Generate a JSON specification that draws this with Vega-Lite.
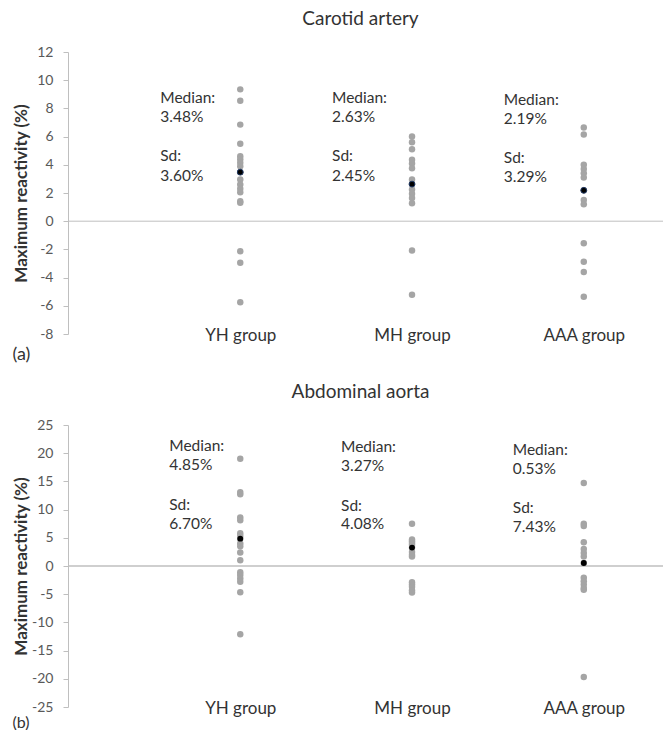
{
  "$schema": "https://vega.github.io/schema/vega-lite/v6.json",
  "padding": {"left": 12, "top": 10, "right": 0, "bottom": 0},
  "config": {"font": "Lato", "view": {"stroke": null}},
  "datasets": {
    "points": [
      {"panel": "Carotid artery", "group": "YH group", "value": 9.35},
      {"panel": "Carotid artery", "group": "YH group", "value": 8.55},
      {"panel": "Carotid artery", "group": "YH group", "value": 6.85},
      {"panel": "Carotid artery", "group": "YH group", "value": 5.5},
      {"panel": "Carotid artery", "group": "YH group", "value": 4.6},
      {"panel": "Carotid artery", "group": "YH group", "value": 4.4},
      {"panel": "Carotid artery", "group": "YH group", "value": 4.15},
      {"panel": "Carotid artery", "group": "YH group", "value": 3.9},
      {"panel": "Carotid artery", "group": "YH group", "value": 3.48},
      {"panel": "Carotid artery", "group": "YH group", "value": 2.95},
      {"panel": "Carotid artery", "group": "YH group", "value": 2.6},
      {"panel": "Carotid artery", "group": "YH group", "value": 2.3},
      {"panel": "Carotid artery", "group": "YH group", "value": 2.05},
      {"panel": "Carotid artery", "group": "YH group", "value": 1.42},
      {"panel": "Carotid artery", "group": "YH group", "value": 1.3},
      {"panel": "Carotid artery", "group": "YH group", "value": -2.13},
      {"panel": "Carotid artery", "group": "YH group", "value": -2.95},
      {"panel": "Carotid artery", "group": "YH group", "value": -5.75},
      {"panel": "Carotid artery", "group": "MH group", "value": 6.0},
      {"panel": "Carotid artery", "group": "MH group", "value": 5.6},
      {"panel": "Carotid artery", "group": "MH group", "value": 5.1},
      {"panel": "Carotid artery", "group": "MH group", "value": 4.35},
      {"panel": "Carotid artery", "group": "MH group", "value": 4.1},
      {"panel": "Carotid artery", "group": "MH group", "value": 3.75},
      {"panel": "Carotid artery", "group": "MH group", "value": 2.95},
      {"panel": "Carotid artery", "group": "MH group", "value": 2.63},
      {"panel": "Carotid artery", "group": "MH group", "value": 2.25},
      {"panel": "Carotid artery", "group": "MH group", "value": 1.95},
      {"panel": "Carotid artery", "group": "MH group", "value": 1.65},
      {"panel": "Carotid artery", "group": "MH group", "value": 1.28},
      {"panel": "Carotid artery", "group": "MH group", "value": -2.07},
      {"panel": "Carotid artery", "group": "MH group", "value": -5.22},
      {"panel": "Carotid artery", "group": "AAA group", "value": 6.65},
      {"panel": "Carotid artery", "group": "AAA group", "value": 6.15},
      {"panel": "Carotid artery", "group": "AAA group", "value": 4.0},
      {"panel": "Carotid artery", "group": "AAA group", "value": 3.7},
      {"panel": "Carotid artery", "group": "AAA group", "value": 3.4},
      {"panel": "Carotid artery", "group": "AAA group", "value": 3.1},
      {"panel": "Carotid artery", "group": "AAA group", "value": 2.19},
      {"panel": "Carotid artery", "group": "AAA group", "value": 1.5},
      {"panel": "Carotid artery", "group": "AAA group", "value": 1.2},
      {"panel": "Carotid artery", "group": "AAA group", "value": -1.57},
      {"panel": "Carotid artery", "group": "AAA group", "value": -2.88},
      {"panel": "Carotid artery", "group": "AAA group", "value": -3.6},
      {"panel": "Carotid artery", "group": "AAA group", "value": -5.35},
      {"panel": "Abdominal aorta", "group": "YH group", "value": 19.0},
      {"panel": "Abdominal aorta", "group": "YH group", "value": 13.1},
      {"panel": "Abdominal aorta", "group": "YH group", "value": 12.7},
      {"panel": "Abdominal aorta", "group": "YH group", "value": 8.6},
      {"panel": "Abdominal aorta", "group": "YH group", "value": 8.1},
      {"panel": "Abdominal aorta", "group": "YH group", "value": 5.8},
      {"panel": "Abdominal aorta", "group": "YH group", "value": 5.3},
      {"panel": "Abdominal aorta", "group": "YH group", "value": 4.85},
      {"panel": "Abdominal aorta", "group": "YH group", "value": 4.0},
      {"panel": "Abdominal aorta", "group": "YH group", "value": 3.5},
      {"panel": "Abdominal aorta", "group": "YH group", "value": 2.4},
      {"panel": "Abdominal aorta", "group": "YH group", "value": 1.0},
      {"panel": "Abdominal aorta", "group": "YH group", "value": -1.1},
      {"panel": "Abdominal aorta", "group": "YH group", "value": -1.6},
      {"panel": "Abdominal aorta", "group": "YH group", "value": -2.2},
      {"panel": "Abdominal aorta", "group": "YH group", "value": -2.8},
      {"panel": "Abdominal aorta", "group": "YH group", "value": -4.65},
      {"panel": "Abdominal aorta", "group": "YH group", "value": -12.1},
      {"panel": "Abdominal aorta", "group": "MH group", "value": 7.5},
      {"panel": "Abdominal aorta", "group": "MH group", "value": 4.7},
      {"panel": "Abdominal aorta", "group": "MH group", "value": 4.4},
      {"panel": "Abdominal aorta", "group": "MH group", "value": 4.1},
      {"panel": "Abdominal aorta", "group": "MH group", "value": 3.75},
      {"panel": "Abdominal aorta", "group": "MH group", "value": 3.27},
      {"panel": "Abdominal aorta", "group": "MH group", "value": 2.5},
      {"panel": "Abdominal aorta", "group": "MH group", "value": 2.0},
      {"panel": "Abdominal aorta", "group": "MH group", "value": 1.7},
      {"panel": "Abdominal aorta", "group": "MH group", "value": -2.9},
      {"panel": "Abdominal aorta", "group": "MH group", "value": -3.3},
      {"panel": "Abdominal aorta", "group": "MH group", "value": -3.7},
      {"panel": "Abdominal aorta", "group": "MH group", "value": -4.3},
      {"panel": "Abdominal aorta", "group": "MH group", "value": -4.7},
      {"panel": "Abdominal aorta", "group": "AAA group", "value": 14.7},
      {"panel": "Abdominal aorta", "group": "AAA group", "value": 7.5},
      {"panel": "Abdominal aorta", "group": "AAA group", "value": 7.1},
      {"panel": "Abdominal aorta", "group": "AAA group", "value": 4.2},
      {"panel": "Abdominal aorta", "group": "AAA group", "value": 3.0},
      {"panel": "Abdominal aorta", "group": "AAA group", "value": 2.3},
      {"panel": "Abdominal aorta", "group": "AAA group", "value": 1.7},
      {"panel": "Abdominal aorta", "group": "AAA group", "value": 0.53},
      {"panel": "Abdominal aorta", "group": "AAA group", "value": -2.1},
      {"panel": "Abdominal aorta", "group": "AAA group", "value": -2.7},
      {"panel": "Abdominal aorta", "group": "AAA group", "value": -3.3},
      {"panel": "Abdominal aorta", "group": "AAA group", "value": -3.9},
      {"panel": "Abdominal aorta", "group": "AAA group", "value": -4.2},
      {"panel": "Abdominal aorta", "group": "AAA group", "value": -19.7}
    ],
    "medians": [
      {"panel": "Carotid artery", "group": "YH group", "median": 3.48},
      {"panel": "Carotid artery", "group": "MH group", "median": 2.63},
      {"panel": "Carotid artery", "group": "AAA group", "median": 2.19},
      {"panel": "Abdominal aorta", "group": "YH group", "median": 4.85},
      {"panel": "Abdominal aorta", "group": "MH group", "median": 3.27},
      {"panel": "Abdominal aorta", "group": "AAA group", "median": 0.53}
    ],
    "notes": [
      {"panel": "Carotid artery", "group": "YH group", "text": "Median:", "y": 8.74},
      {"panel": "Carotid artery", "group": "YH group", "text": "3.48%", "y": 7.37},
      {"panel": "Carotid artery", "group": "YH group", "text": "Sd:", "y": 4.6},
      {"panel": "Carotid artery", "group": "YH group", "text": "3.60%", "y": 3.23},
      {"panel": "Carotid artery", "group": "MH group", "text": "Median:", "y": 8.74},
      {"panel": "Carotid artery", "group": "MH group", "text": "2.63%", "y": 7.37},
      {"panel": "Carotid artery", "group": "MH group", "text": "Sd:", "y": 4.6},
      {"panel": "Carotid artery", "group": "MH group", "text": "2.45%", "y": 3.23},
      {"panel": "Carotid artery", "group": "AAA group", "text": "Median:", "y": 8.6},
      {"panel": "Carotid artery", "group": "AAA group", "text": "2.19%", "y": 7.25},
      {"panel": "Carotid artery", "group": "AAA group", "text": "Sd:", "y": 4.46},
      {"panel": "Carotid artery", "group": "AAA group", "text": "3.29%", "y": 3.11},
      {"panel": "Abdominal aorta", "group": "YH group", "text": "Median:", "y": 21.3},
      {"panel": "Abdominal aorta", "group": "YH group", "text": "4.85%", "y": 17.9},
      {"panel": "Abdominal aorta", "group": "YH group", "text": "Sd:", "y": 10.8},
      {"panel": "Abdominal aorta", "group": "YH group", "text": "6.70%", "y": 7.45},
      {"panel": "Abdominal aorta", "group": "MH group", "text": "Median:", "y": 21.15},
      {"panel": "Abdominal aorta", "group": "MH group", "text": "3.27%", "y": 17.8},
      {"panel": "Abdominal aorta", "group": "MH group", "text": "Sd:", "y": 10.6},
      {"panel": "Abdominal aorta", "group": "MH group", "text": "4.08%", "y": 7.4},
      {"panel": "Abdominal aorta", "group": "AAA group", "text": "Median:", "y": 20.6},
      {"panel": "Abdominal aorta", "group": "AAA group", "text": "0.53%", "y": 17.2},
      {"panel": "Abdominal aorta", "group": "AAA group", "text": "Sd:", "y": 10.2},
      {"panel": "Abdominal aorta", "group": "AAA group", "text": "7.43%", "y": 6.86}
    ]
  },
  "columns": 1,
  "spacing": 20,
  "concat": [
    {
      "title": {"text": "Carotid artery", "fontSize": 19, "fontWeight": "normal", "color": "#333333", "offset": 16, "dx": -5},
      "width": 595,
      "height": 282,
      "layer": [
        {
          "data": {"values": [{}]},
          "mark": {"type": "rule", "color": "#bfbfbf", "strokeWidth": 1},
          "encoding": {
            "y": {
              "datum": 0, "type": "quantitative",
              "scale": {"domain": [-8, 12], "nice": false, "zero": false},
              "axis": {"tickCount": 10, "tickMinStep": 2, "labelExpr": "replace(datum.label, '\u2212', '-')", "labelOverlap": false, "grid": false, "domainColor": "#bfbfbf", "tickColor": "#bfbfbf", "tickSize": 5, "labelPadding": 10, "labelFontSize": 14, "labelColor": "#595959",
                       "title": "Maximum reactivity (%)", "titleFontSize": 17, "titleFontWeight": "bold", "titleColor": "#333333", "titleX": -47, "titleBaseline": "middle", "titleAngle": -90}
            }
          }
        },
        {
          "data": {"name": "points"},
          "transform": [{"filter": "datum.panel === 'Carotid artery'"}],
          "mark": {"type": "circle", "size": 42, "color": "#a5a5a5", "opacity": 1},
          "encoding": {
            "x": {
              "field": "group", "type": "nominal",
              "scale": {"type": "point", "domain": ["YH group", "MH group", "AAA group"], "padding": 0.732, "align": 0.685},
              "axis": {"orient": "bottom", "domain": false, "ticks": false, "labelPadding": 1, "labelBaseline": "middle", "labelAngle": 0, "labelFontSize": 17, "labelColor": "#333333",
                       "title": "(a)", "titleAnchor": "start", "titleAlign": "left", "titleBaseline": "middle", "titleX": -56, "titleY": 20, "titleFontSize": 18, "titleFontWeight": "normal", "titleColor": "#333333"}
            },
            "y": {"field": "value", "type": "quantitative"}
          }
        },
        {
          "data": {"name": "medians"},
          "transform": [{"filter": "datum.panel === 'Carotid artery'"}],
          "mark": {"type": "circle", "size": 34, "color": "#000000", "opacity": 1, "stroke": "#1f3864", "strokeWidth": 1},
          "encoding": {
            "x": {"field": "group", "type": "nominal"},
            "y": {"field": "median", "type": "quantitative"}
          }
        },
        {
          "data": {"name": "notes"},
          "transform": [{"filter": "datum.panel === 'Carotid artery'"}],
          "mark": {"type": "text", "align": "left", "baseline": "middle", "dx": -80, "fontSize": 15.5, "color": "#333333"},
          "encoding": {
            "x": {"field": "group", "type": "nominal"},
            "y": {"field": "y", "type": "quantitative"},
            "text": {"field": "text"}
          }
        }
      ]
    },
    {
      "title": {"text": "Abdominal aorta", "fontSize": 19, "fontWeight": "normal", "color": "#333333", "offset": 16, "dx": -5},
      "width": 595,
      "height": 282,
      "layer": [
        {
          "data": {"values": [{}]},
          "mark": {"type": "rule", "color": "#bfbfbf", "strokeWidth": 1.5},
          "encoding": {
            "y": {
              "datum": 0, "type": "quantitative",
              "scale": {"domain": [-25, 25], "nice": false, "zero": false},
              "axis": {"tickCount": 10, "tickMinStep": 5, "labelExpr": "replace(datum.label, '\u2212', '-')", "labelOverlap": false, "grid": false, "domainColor": "#bfbfbf", "tickColor": "#bfbfbf", "tickSize": 5, "labelPadding": 10, "labelFontSize": 14, "labelColor": "#595959",
                       "title": "Maximum reactivity (%)", "titleFontSize": 17, "titleFontWeight": "bold", "titleColor": "#333333", "titleX": -47, "titleBaseline": "middle", "titleAngle": -90}
            }
          }
        },
        {
          "data": {"name": "points"},
          "transform": [{"filter": "datum.panel === 'Abdominal aorta'"}],
          "mark": {"type": "circle", "size": 42, "color": "#a5a5a5", "opacity": 1},
          "encoding": {
            "x": {
              "field": "group", "type": "nominal",
              "scale": {"type": "point", "domain": ["YH group", "MH group", "AAA group"], "padding": 0.732, "align": 0.685},
              "axis": {"orient": "bottom", "domain": false, "ticks": false, "labelPadding": 1, "labelBaseline": "middle", "labelAngle": 0, "labelFontSize": 17, "labelColor": "#333333",
                       "title": "(b)", "titleAnchor": "start", "titleAlign": "left", "titleBaseline": "middle", "titleX": -56, "titleY": 15, "titleFontSize": 16, "titleFontWeight": "normal", "titleColor": "#333333"}
            },
            "y": {"field": "value", "type": "quantitative"}
          }
        },
        {
          "data": {"name": "medians"},
          "transform": [{"filter": "datum.panel === 'Abdominal aorta'"}],
          "mark": {"type": "circle", "size": 34, "color": "#000000", "opacity": 1},
          "encoding": {
            "x": {"field": "group", "type": "nominal"},
            "y": {"field": "median", "type": "quantitative"}
          }
        },
        {
          "data": {"name": "notes"},
          "transform": [{"filter": "datum.panel === 'Abdominal aorta'"}],
          "mark": {"type": "text", "align": "left", "baseline": "middle", "dx": -71, "fontSize": 15.5, "color": "#333333"},
          "encoding": {
            "x": {"field": "group", "type": "nominal"},
            "y": {"field": "y", "type": "quantitative"},
            "text": {"field": "text"}
          }
        }
      ]
    }
  ]
}
